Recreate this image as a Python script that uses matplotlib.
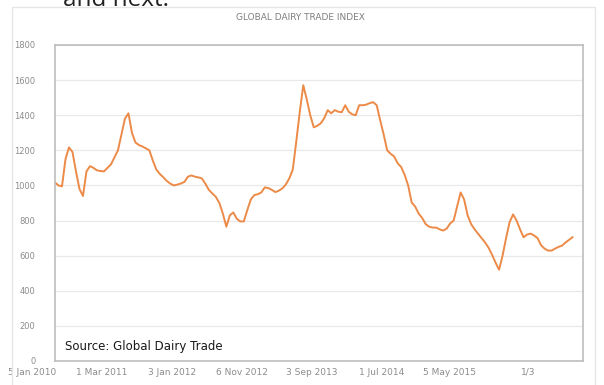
import matplotlib
matplotlib.use("Agg")
import matplotlib.pyplot as plt
from matplotlib.patches import Rectangle
from matplotlib.transforms import ScaledTranslation, blended_transform_factory

# auction number (two auctions a month) and GDT index value
auction = list(range(149))
index_value = [
    1017, 1000, 995, 1150, 1217, 1190, 1080, 980, 940, 1080,
    1110, 1100, 1086, 1082, 1080, 1100, 1120, 1160, 1200, 1290,
    1380, 1411, 1300, 1245, 1230, 1222, 1211, 1200, 1140, 1090,
    1065, 1046, 1025, 1010, 1000, 1005, 1011, 1020, 1050, 1057,
    1050, 1046, 1040, 1010, 975, 954, 935, 900, 840, 765,
    830, 846, 810, 795, 795, 860, 920, 945, 950, 960,
    989, 985, 975, 962, 970, 983, 1005, 1040, 1090, 1250,
    1420, 1571, 1490, 1400, 1331, 1340, 1354, 1383, 1429, 1411,
    1429, 1420, 1417, 1457, 1420, 1405, 1400, 1457, 1457, 1460,
    1469, 1474, 1457, 1371, 1290, 1200, 1180, 1165, 1126, 1105,
    1060, 1000, 903, 880, 840, 815, 780, 765, 760, 760,
    750, 743, 754, 783, 800, 880, 960, 920, 830, 780,
    750, 725, 700, 675, 645, 605, 560, 520, 600, 700,
    790, 835, 800, 750, 705, 720, 726, 715, 700, 660,
    640, 629, 629, 640, 650, 657, 675, 690, 705,
]

date_labels = ["5 Jan 2010", "1 Mar 2011", "3 Jan 2012", "6 Nov 2012",
               "3 Sep 2013", "1 Jul 2014", "5 May 2015", "1/3"]
label_auction = [0, 20, 40, 60, 80, 100, 119.5, 142]
y_ticks = list(range(0, 1801, 200))

fig = plt.figure(figsize=(6.04, 3.85), dpi=100)
fig.patch.set_facecolor("white")

# page text cut off at the top of the screenshot
fig.text(0.105, 0.985, "and next.", fontsize=17.5, color="#222222",
         family="Open Sans", ha="left", va="baseline")

# chart area border
fig.patches.append(Rectangle((12 / 604, -0.02), 583 / 604, 1.002, transform=fig.transFigure,
                             fill=False, edgecolor="#E6E6E6", lw=1.0))

ax = fig.add_axes([55 / 604, 1 - 361 / 385, 528 / 604, 316 / 385])
ax.plot(auction, index_value, color="#EC8A48", lw=1.4, solid_joinstyle="round")

ax.set_xlim(0, 151)
ax.set_ylim(0, 1800)
ax.set_yticks(y_ticks)
ax.set_yticklabels([str(v) for v in y_ticks], fontsize=6, color="#8C8C8C")
ax.set_xticks([])

# category labels sit a little left of their auction, as in the Excel original
trans = blended_transform_factory(ax.transData, ax.transAxes) + \
    ScaledTranslation(-23 / 100, 0, fig.dpi_scale_trans)
for pos, lab in zip(label_auction, date_labels):
    ax.text(pos, -0.022, lab, transform=trans, fontsize=6.5, color="#8C8C8C",
            ha="center", va="top", clip_on=False)

ax.tick_params(length=0, pad=4)
ax.tick_params(axis="y", pad=14)
ax.grid(axis="y", color="#E8E8E8", lw=0.9)
ax.set_axisbelow(True)
for s in ax.spines.values():
    s.set_color("#BDBDBD")
    s.set_linewidth(1.2)

fig.text(0.497, 1 - 18 / 385, "GLOBAL DAIRY TRADE INDEX", fontsize=6.5,
         color="#7F7F7F", ha="center", va="center")
ax.text(0.018, 0.045, "Source: Global Dairy Trade", transform=ax.transAxes,
        fontsize=8.5, color="#1A1A1A", ha="left", va="center")

fig.savefig("out.png", dpi=100)
